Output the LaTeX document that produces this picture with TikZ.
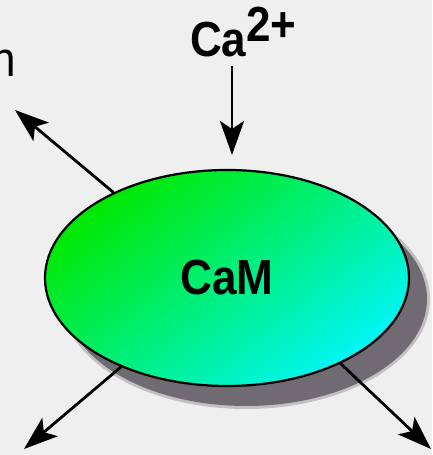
\documentclass[tikz,border=0pt]{standalone}
\usepackage{fontspec}
\setmainfont{Liberation Sans}
\usetikzlibrary{arrows.meta,shapes.geometric,calc}
\definecolor{bg}{RGB}{239,239,239}
\definecolor{shadowgray}{RGB}{112,106,114}
\definecolor{camgreen}{RGB}{0,232,0}
\definecolor{cammid}{RGB}{0,234,50}
\definecolor{camcyan}{RGB}{0,246,246}
\tikzset{
  arr/.style={line width=2.8pt, -{Stealth[length=34pt,width=24pt,inset=8pt]}},
  lbl/.style={inner sep=0pt, font=\bfseries\fontsize{44}{44}\selectfont},
  lblthin/.style={inner sep=0pt, font=\fontsize{44}{44}\selectfont},
  cambox/.style={ellipse, draw=black, line width=2.2pt, inner sep=0pt,
     minimum width=364pt, minimum height=216pt,
     top color=camgreen, middle color=cammid, bottom color=camcyan, shading angle=38}
}
\begin{document}
\begin{tikzpicture}[x=1pt,y=1pt]
\fill[bg] (0,0) rectangle (432,455);
\useasboundingbox (0,0) rectangle (432,455);
% shadow
\fill[shadowgray, opacity=0.35] (246,156) ellipse [x radius=184, y radius=110];
\fill[shadowgray] (246,156) ellipse [x radius=181, y radius=107];
% main ellipse
\node[cambox, lbl] (cam) at (227,177) {\scalebox{1}[1.12]{CaM}};
% labels
\node[lbl, anchor=base west] (ca) at (190,398) {\scalebox{1}[1.12]{Ca\raisebox{14pt}{2+}}};
\node[lblthin, anchor=base east] (nlbl) at (16,378) {\scalebox{1}[1.12]{n}};
% arrow ends
\coordinate (catip) at (232,300);
\coordinate (tltip) at (15,345);
\coordinate (bltip) at (24,6);
\coordinate (brtip) at (431,6);
% arrows
\draw[arr, shorten <=8pt] (ca.south -| catip) -- (catip);
\draw[arr] (cam.143) -- (tltip);
\draw[arr] (cam.220.6) -- (bltip);
\draw[arr] (cam.323.4) -- (brtip);
\end{tikzpicture}
\end{document}
